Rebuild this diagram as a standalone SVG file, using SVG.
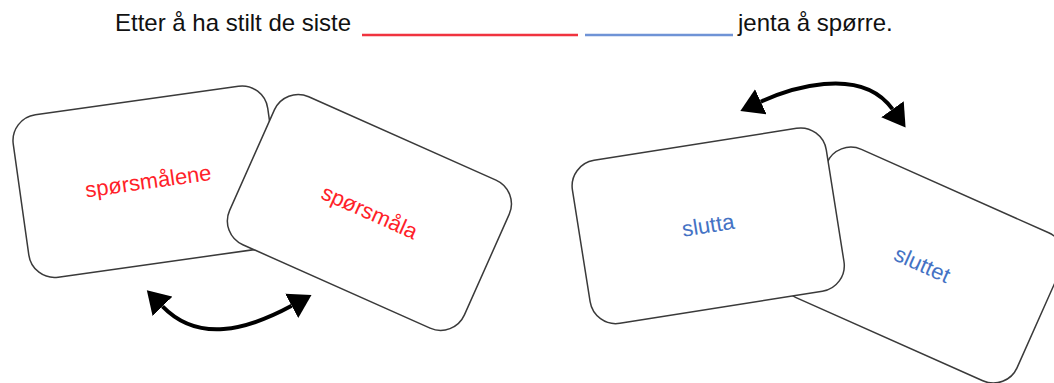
<svg xmlns="http://www.w3.org/2000/svg" width="1054" height="383" viewBox="0 0 1054 383">
  <style>
    .card { fill: #ffffff; stroke: #3a3a3a; stroke-width: 1.5; }
    .word { font-family: "Liberation Sans", Arial, sans-serif; font-size: 22px; text-anchor: middle; }
    .red { fill: #ff1f2a; }
    .blue { fill: #4472c4; }
    .title { font-family: "Liberation Sans", Arial, sans-serif; font-size: 24px; fill: #111111; }
    .swap { fill: none; stroke: #000000; stroke-width: 4; }
  </style>
  <defs>
    <marker id="head" markerUnits="userSpaceOnUse" viewBox="0 -14 23 28" refX="0" refY="0" markerWidth="23" markerHeight="28" orient="auto-start-reverse">
      <path d="M0,-13.8 L22.5,0 L0,13.8 Z" fill="#000000"/>
    </marker>
  </defs>

  <rect width="1054" height="383" fill="#ffffff"/>

  <!-- sentence with two blanks -->
  <g id="sentence">
    <text class="title" x="115" y="31">Etter å ha stilt de siste</text>
    <line x1="362" y1="35" x2="578" y2="35" stroke="#f0333f" stroke-width="2.5"/>
    <line x1="585" y1="35" x2="733" y2="35" stroke="#6f93d6" stroke-width="2.5"/>
    <text class="title" x="738" y="31">jenta å spørre.</text>
  </g>

  <!-- left pair: noun forms -->
  <g id="card-sporsmalene" transform="translate(148.3,181.7) rotate(-8)">
    <rect class="card" x="-128.5" y="-82" width="257" height="164" rx="26"/>
    <text class="word red" x="0" y="7">spørsmålene</text>
  </g>
  <g id="card-sporsmala" transform="translate(369.4,212.4) rotate(24)">
    <rect class="card" x="-128.5" y="-81" width="257" height="162" rx="26"/>
    <text class="word red" x="0" y="7">spørsmåla</text>
  </g>

  <!-- right pair: verb forms -->
  <g id="card-sluttet" transform="translate(922.1,265.1) rotate(24)">
    <rect class="card" x="-128.5" y="-81" width="257" height="162" rx="26"/>
    <text class="word blue" x="0" y="7">sluttet</text>
  </g>
  <g id="card-slutta" transform="translate(708.2,225.8) rotate(-9)">
    <rect class="card" x="-128.5" y="-82.5" width="257" height="165" rx="26"/>
    <text class="word blue" x="0" y="7">slutta</text>
  </g>

  <!-- swap arrows -->
  <g id="connectors">
    <path class="swap" d="M162.5,306.3 C198.2,343.1 246.6,330.2 291.7,305.8" marker-start="url(#head)" marker-end="url(#head)"/>
    <path class="swap" d="M760.8,101.7 C786.3,90 860,63.7 892.5,109.2" marker-start="url(#head)" marker-end="url(#head)"/>
  </g>
</svg>
